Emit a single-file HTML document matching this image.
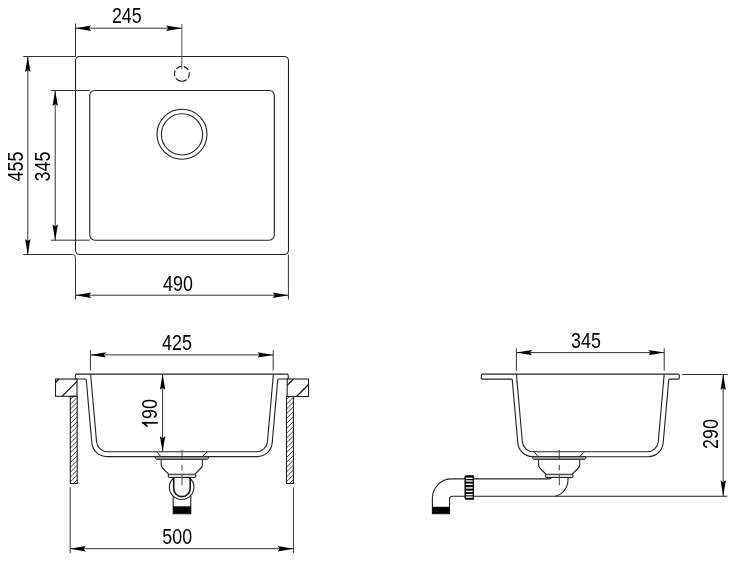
<!DOCTYPE html>
<html><head><meta charset="utf-8"><style>html,body{margin:0;padding:0;background:#fff;}svg{display:block;will-change:transform}</style></head>
<body><svg width="750" height="570" viewBox="0 0 750 570">
<rect width="750" height="570" fill="#fff"/>
<rect x="75.5" y="56.5" width="213" height="198" rx="4.2" fill="none" stroke="#222" stroke-width="1.1"/>
<rect x="89.8" y="90.5" width="184.5" height="149.7" rx="5" fill="none" stroke="#222" stroke-width="1.1"/>
<circle cx="182" cy="134.2" r="25" fill="none" stroke="#222" stroke-width="1.1"/>
<circle cx="182" cy="134.4" r="20.6" fill="none" stroke="#222" stroke-width="1.1"/>
<circle cx="181.9" cy="73.8" r="7.4" fill="none" stroke="#111" stroke-width="1.1" stroke-dasharray="5.68 2.33" transform="rotate(98 181.9 73.8)"/>
<line x1="75.5" y1="23.5" x2="75.5" y2="56.5" stroke="#333" stroke-width="1" />
<path d="M23.2,254.5 L72.5,254.5 A3,3 0 0 1 75.5,257.5 L75.5,299.5" fill="none" stroke="#333" stroke-width="1"/>
<line x1="181.8" y1="24" x2="181.8" y2="69.4" stroke="#555" stroke-width="1" />
<line x1="288.4" y1="254.5" x2="288.4" y2="299.5" stroke="#333" stroke-width="1" />
<line x1="23.2" y1="56.5" x2="75.5" y2="56.5" stroke="#333" stroke-width="1" />
<line x1="50.8" y1="90.5" x2="89.8" y2="90.5" stroke="#333" stroke-width="1" />
<line x1="50.8" y1="240.2" x2="89.8" y2="240.2" stroke="#333" stroke-width="1" />
<line x1="75.5" y1="28.2" x2="181.8" y2="28.2" stroke="#333" stroke-width="1" />
<path d="M0,0 L15.6,-2.7 L13.6,0 L15.6,2.7 Z" fill="#000" transform="translate(75.5,28.2) rotate(0)"/>
<path d="M0,0 L15.6,-2.7 L13.6,0 L15.6,2.7 Z" fill="#000" transform="translate(181.8,28.2) rotate(180)"/>
<line x1="75.5" y1="295.2" x2="288.4" y2="295.2" stroke="#333" stroke-width="1" />
<path d="M0,0 L15.6,-2.7 L13.6,0 L15.6,2.7 Z" fill="#000" transform="translate(75.5,295.2) rotate(0)"/>
<path d="M0,0 L15.6,-2.7 L13.6,0 L15.6,2.7 Z" fill="#000" transform="translate(288.4,295.2) rotate(180)"/>
<line x1="27.8" y1="56.5" x2="27.8" y2="254.5" stroke="#333" stroke-width="1" />
<path d="M0,0 L15.6,-2.7 L13.6,0 L15.6,2.7 Z" fill="#000" transform="translate(27.8,56.5) rotate(90)"/>
<path d="M0,0 L15.6,-2.7 L13.6,0 L15.6,2.7 Z" fill="#000" transform="translate(27.8,254.5) rotate(-90)"/>
<line x1="55.2" y1="90.5" x2="55.2" y2="240.2" stroke="#333" stroke-width="1" />
<path d="M0,0 L15.6,-2.7 L13.6,0 L15.6,2.7 Z" fill="#000" transform="translate(55.2,90.5) rotate(90)"/>
<path d="M0,0 L15.6,-2.7 L13.6,0 L15.6,2.7 Z" fill="#000" transform="translate(55.2,240.2) rotate(-90)"/>
<text transform="translate(126.8,23.3) scale(0.79,1)" text-anchor="middle" font-family="Liberation Sans" font-size="22.6" fill="#000">245</text>
<text transform="translate(178,290.7) scale(0.79,1)" text-anchor="middle" font-family="Liberation Sans" font-size="22.6" fill="#000">490</text>
<text transform="translate(23.0,166.5) rotate(-90) scale(0.79,1)" text-anchor="middle" font-family="Liberation Sans" font-size="22.6" fill="#000">455</text>
<text transform="translate(50.4,166.5) rotate(-90) scale(0.79,1)" text-anchor="middle" font-family="Liberation Sans" font-size="22.6" fill="#000">345</text>
<rect x="55.5" y="379" width="21.5" height="17.3" fill="none" stroke="#222" stroke-width="1.1"/>
<line x1="55.5" y1="382.5" x2="59.0" y2="379" stroke="#111" stroke-width="1.2"/>
<line x1="62.0" y1="396.3" x2="77" y2="381.3" stroke="#111" stroke-width="1.2"/>
<rect x="287.2" y="379" width="21.3" height="17.5" fill="none" stroke="#222" stroke-width="1.1"/>
<line x1="287.2" y1="385.3" x2="293.5" y2="379" stroke="#111" stroke-width="1.2"/>
<line x1="296.5" y1="396.5" x2="308.5" y2="384.5" stroke="#111" stroke-width="1.2"/>
<rect x="70.3" y="396.3" width="6.9" height="87.3" fill="none" stroke="#222" stroke-width="1.1"/>
<line x1="70.3" y1="399.5" x2="73.5" y2="396.3" stroke="#222" stroke-width="0.85"/>
<line x1="70.3" y1="404.35" x2="77.2" y2="397.45" stroke="#222" stroke-width="0.85"/>
<line x1="70.3" y1="409.2" x2="77.2" y2="402.3" stroke="#222" stroke-width="0.85"/>
<line x1="70.3" y1="414.05" x2="77.2" y2="407.15" stroke="#222" stroke-width="0.85"/>
<line x1="70.3" y1="418.9" x2="77.2" y2="412.0" stroke="#222" stroke-width="0.85"/>
<line x1="70.3" y1="423.75" x2="77.2" y2="416.85" stroke="#222" stroke-width="0.85"/>
<line x1="70.3" y1="428.6" x2="77.2" y2="421.7" stroke="#222" stroke-width="0.85"/>
<line x1="70.3" y1="433.45" x2="77.2" y2="426.55" stroke="#222" stroke-width="0.85"/>
<line x1="70.3" y1="438.3" x2="77.2" y2="431.4" stroke="#222" stroke-width="0.85"/>
<line x1="70.3" y1="443.15" x2="77.2" y2="436.25" stroke="#222" stroke-width="0.85"/>
<line x1="70.3" y1="448.0" x2="77.2" y2="441.1" stroke="#222" stroke-width="0.85"/>
<line x1="70.3" y1="452.85" x2="77.2" y2="445.95" stroke="#222" stroke-width="0.85"/>
<line x1="70.3" y1="457.7" x2="77.2" y2="450.8" stroke="#222" stroke-width="0.85"/>
<line x1="70.3" y1="462.55" x2="77.2" y2="455.65" stroke="#222" stroke-width="0.85"/>
<line x1="70.3" y1="467.4" x2="77.2" y2="460.5" stroke="#222" stroke-width="0.85"/>
<line x1="70.3" y1="472.25" x2="77.2" y2="465.35" stroke="#222" stroke-width="0.85"/>
<line x1="70.3" y1="477.1" x2="77.2" y2="470.2" stroke="#222" stroke-width="0.85"/>
<line x1="70.3" y1="481.95" x2="77.2" y2="475.05" stroke="#222" stroke-width="0.85"/>
<line x1="73.5" y1="483.6" x2="77.2" y2="479.9" stroke="#222" stroke-width="0.85"/>
<rect x="286.5" y="396.5" width="6.9" height="87" fill="none" stroke="#222" stroke-width="1.1"/>
<line x1="286.5" y1="399.3" x2="289.3" y2="396.5" stroke="#222" stroke-width="0.85"/>
<line x1="286.5" y1="404.15" x2="293.4" y2="397.25" stroke="#222" stroke-width="0.85"/>
<line x1="286.5" y1="409.0" x2="293.4" y2="402.1" stroke="#222" stroke-width="0.85"/>
<line x1="286.5" y1="413.85" x2="293.4" y2="406.95" stroke="#222" stroke-width="0.85"/>
<line x1="286.5" y1="418.7" x2="293.4" y2="411.8" stroke="#222" stroke-width="0.85"/>
<line x1="286.5" y1="423.55" x2="293.4" y2="416.65" stroke="#222" stroke-width="0.85"/>
<line x1="286.5" y1="428.4" x2="293.4" y2="421.5" stroke="#222" stroke-width="0.85"/>
<line x1="286.5" y1="433.25" x2="293.4" y2="426.35" stroke="#222" stroke-width="0.85"/>
<line x1="286.5" y1="438.1" x2="293.4" y2="431.2" stroke="#222" stroke-width="0.85"/>
<line x1="286.5" y1="442.95" x2="293.4" y2="436.05" stroke="#222" stroke-width="0.85"/>
<line x1="286.5" y1="447.8" x2="293.4" y2="440.9" stroke="#222" stroke-width="0.85"/>
<line x1="286.5" y1="452.65" x2="293.4" y2="445.75" stroke="#222" stroke-width="0.85"/>
<line x1="286.5" y1="457.5" x2="293.4" y2="450.6" stroke="#222" stroke-width="0.85"/>
<line x1="286.5" y1="462.35" x2="293.4" y2="455.45" stroke="#222" stroke-width="0.85"/>
<line x1="286.5" y1="467.2" x2="293.4" y2="460.3" stroke="#222" stroke-width="0.85"/>
<line x1="286.5" y1="472.05" x2="293.4" y2="465.15" stroke="#222" stroke-width="0.85"/>
<line x1="286.5" y1="476.9" x2="293.4" y2="470.0" stroke="#222" stroke-width="0.85"/>
<line x1="286.5" y1="481.75" x2="293.4" y2="474.85" stroke="#222" stroke-width="0.85"/>
<line x1="289.6" y1="483.5" x2="293.4" y2="479.7" stroke="#222" stroke-width="0.85"/>
<path d="M75.4,379 L75.4,375.2 Q75.4,374.1 76.5,374.1 L287.1,374.1 Q288.2,374.1 288.2,375.2 L288.2,379" fill="none" stroke="#222" stroke-width="1.1"/>
<path d="M75.4,379 L86.2,379 M277.8,379 L288.2,379 M86.2,379 L91.82,442.91 A15,15 0 0 0 106.77,456.6 L257.23,456.6 A15,15 0 0 0 272.18,442.91 L277.8,379" fill="none" stroke="#222" stroke-width="1.1"/>
<path d="M90.6,374.1 L96.55,441.76 A11,11 0 0 0 107.51,451.8 L256.49,451.8 A11,11 0 0 0 267.45,441.76 L273.4,374.1" fill="none" stroke="#222" stroke-width="1.1"/>
<g transform="translate(0,0)"><path d="M156.8,451.8 L160.8,456.6 M207.2,451.8 L202.4,456.6" stroke="#222" stroke-width="1" fill="none"/><path d="M155.4,456.6 L208.4,456.6 L208.4,458.4 L207.4,459.4 L156.4,459.4 L155.4,458.4 Z" fill="#999" stroke="#222" stroke-width="0.9"/><path d="M161.2,459.4 L161.2,464.5 Q161.2,466.5 162.6,468 L168.8,474.4 M202.4,459.4 L202.4,464.5 Q202.4,466.5 201,468 L194.8,474.4" stroke="#222" stroke-width="1.1" fill="none"/><rect x="168.2" y="474.3" width="27.5" height="3.2" rx="1.2" fill="#ddd" stroke="#222" stroke-width="1.1"/></g>
<path d="M173.85,477.7 A12.3,12.3 0 1 0 189.45,477.7" fill="none" stroke="#222" stroke-width="1.1"/>
<path d="M173.7,477.7 L173.7,488.4 A8.25,8.25 0 0 0 190.2,488.4 L190.2,477.7" fill="none" stroke="#111" stroke-width="1.6"/>
<path d="M173.2,496 L173.2,513.7 L190.8,513.7 L190.8,496" fill="none" stroke="#222" stroke-width="1.1"/>
<rect x="173.2" y="506.3" width="17.6" height="7.4" fill="#000"/>
<path d="M182,450 L182,459.2 M182,464.8 L182,470.4 M182,474.6 L182,485.3" stroke="#444" stroke-width="1"/>
<line x1="90.4" y1="350.2" x2="90.4" y2="370.6" stroke="#333" stroke-width="1" />
<line x1="273.2" y1="350.2" x2="273.2" y2="370.6" stroke="#333" stroke-width="1" />
<line x1="90.4" y1="354.9" x2="273.2" y2="354.9" stroke="#333" stroke-width="1" />
<path d="M0,0 L15.6,-2.7 L13.6,0 L15.6,2.7 Z" fill="#000" transform="translate(90.4,354.9) rotate(0)"/>
<path d="M0,0 L15.6,-2.7 L13.6,0 L15.6,2.7 Z" fill="#000" transform="translate(273.2,354.9) rotate(180)"/>
<text transform="translate(177,350.3) scale(0.79,1)" text-anchor="middle" font-family="Liberation Sans" font-size="22.6" fill="#000">425</text>
<line x1="162.6" y1="374.2" x2="162.6" y2="451.8" stroke="#333" stroke-width="1" />
<path d="M0,0 L15.6,-2.7 L13.6,0 L15.6,2.7 Z" fill="#000" transform="translate(162.6,374.2) rotate(90)"/>
<path d="M0,0 L15.6,-2.7 L13.6,0 L15.6,2.7 Z" fill="#000" transform="translate(162.6,451.8) rotate(-90)"/>
<line x1="70.2" y1="487" x2="70.2" y2="553" stroke="#333" stroke-width="1" />
<line x1="293.4" y1="487.4" x2="293.4" y2="553" stroke="#333" stroke-width="1" />
<line x1="70.2" y1="548.7" x2="293.4" y2="548.7" stroke="#333" stroke-width="1" />
<path d="M0,0 L15.6,-2.7 L13.6,0 L15.6,2.7 Z" fill="#000" transform="translate(70.2,548.7) rotate(0)"/>
<path d="M0,0 L15.6,-2.7 L13.6,0 L15.6,2.7 Z" fill="#000" transform="translate(293.4,548.7) rotate(180)"/>
<text transform="translate(177.2,544.4) scale(0.79,1)" text-anchor="middle" font-family="Liberation Sans" font-size="22.6" fill="#000">500</text>
<text transform="translate(157.3,409) rotate(-90) scale(0.79,1)" text-anchor="middle" font-family="Liberation Sans" font-size="22.6" fill="#000">90</text>
<path d="M142.2,422.8 L157.9,422.8" stroke="#000" stroke-width="1.75"/><path d="M142.5,422.2 L147.6,426.6" stroke="#000" stroke-width="1.6"/>
<path d="M512.2,379.1 L482.6,379.1 Q481.3,379.1 481.3,377.8 L481.3,375.4 Q481.3,374.1 482.6,374.1 L678.2,374.1 Q679.3,374.1 679.3,375.2 L679.3,378 Q679.3,379.1 678.2,379.1 L668.8,379.1" fill="none" stroke="#222" stroke-width="1.1"/>
<path d="M512.2,379.1 L517.82,443.01 A15,15 0 0 0 532.77,456.7 L648.23,456.7 A15,15 0 0 0 663.18,443.01 L668.8,379.1" fill="none" stroke="#222" stroke-width="1.1"/>
<path d="M516.4,374.1 L522.35,441.76 A11,11 0 0 0 533.31,451.8 L647.29,451.8 A11,11 0 0 0 658.25,441.76 L664.2,374.1" fill="none" stroke="#222" stroke-width="1.1"/>
<g transform="translate(377.29999999999995,0)"><path d="M156.8,451.8 L160.8,456.6 M207.2,451.8 L202.4,456.6" stroke="#222" stroke-width="1" fill="none"/><path d="M155.4,456.6 L208.4,456.6 L208.4,458.4 L207.4,459.4 L156.4,459.4 L155.4,458.4 Z" fill="#999" stroke="#222" stroke-width="0.9"/><path d="M161.2,459.4 L161.2,464.5 Q161.2,466.5 162.6,468 L168.8,474.4 M202.4,459.4 L202.4,464.5 Q202.4,466.5 201,468 L194.8,474.4" stroke="#222" stroke-width="1.1" fill="none"/><rect x="168.2" y="474.3" width="27.5" height="3.2" rx="1.2" fill="#ddd" stroke="#222" stroke-width="1.1"/></g>
<path d="M559.3,450 L559.3,459.2 M559.3,464.8 L559.3,470.4 M559.3,474.6 L559.3,485.3" stroke="#444" stroke-width="1"/>
<path d="M568,477.6 L568,479 A17,17 0 0 1 555,496.3" fill="none" stroke="#222" stroke-width="1.1"/>
<path d="M451.6,478.9 L549,478.9 Q551,478.9 551.5,477.6" fill="none" stroke="#222" stroke-width="1.1"/>
<path d="M727.2,496.3 L452.6,496.3 Q449.5,496.3 449.5,499.4 L449.5,513.7 L432.4,513.7 L432.4,498.1 A19.2,19.2 0 0 1 451.6,478.9" fill="none" stroke="#222" stroke-width="1.1"/>
<rect x="432.4" y="506.8" width="17.1" height="6.9" fill="#000"/>
<path d="M466.5,475.2 L473.9,475.2 L473.9,499.8 L466.5,499.8 Q464.5,499.8 464.5,497.8 L464.5,477.2 Q464.5,475.2 466.5,475.2 Z" fill="#000"/><rect x="465.9" y="477.6" width="6.8" height="1.4" fill="#fff"/><rect x="465.9" y="480.3" width="6.8" height="1.4" fill="#fff"/><rect x="465.9" y="483.6" width="6.8" height="1.4" fill="#fff"/><rect x="465.9" y="487.2" width="6.8" height="1.4" fill="#fff"/><rect x="465.9" y="490.7" width="6.8" height="1.4" fill="#fff"/><rect x="465.9" y="493.90000000000003" width="6.8" height="1.4" fill="#fff"/><rect x="465.9" y="496.40000000000003" width="6.8" height="1.4" fill="#fff"/>
<line x1="516.4" y1="348.3" x2="516.4" y2="370.7" stroke="#333" stroke-width="1" />
<line x1="664.2" y1="348.3" x2="664.2" y2="370.7" stroke="#333" stroke-width="1" />
<line x1="516.4" y1="352.6" x2="664.2" y2="352.6" stroke="#333" stroke-width="1" />
<path d="M0,0 L15.6,-2.7 L13.6,0 L15.6,2.7 Z" fill="#000" transform="translate(516.4,352.6) rotate(0)"/>
<path d="M0,0 L15.6,-2.7 L13.6,0 L15.6,2.7 Z" fill="#000" transform="translate(664.2,352.6) rotate(180)"/>
<text transform="translate(586,347.9) scale(0.79,1)" text-anchor="middle" font-family="Liberation Sans" font-size="22.6" fill="#000">345</text>
<line x1="682.1" y1="374.5" x2="727.8" y2="374.5" stroke="#333" stroke-width="1" />
<line x1="723.2" y1="374.5" x2="723.2" y2="495.9" stroke="#333" stroke-width="1" />
<path d="M0,0 L15.6,-2.7 L13.6,0 L15.6,2.7 Z" fill="#000" transform="translate(723.2,374.5) rotate(90)"/>
<path d="M0,0 L15.6,-2.7 L13.6,0 L15.6,2.7 Z" fill="#000" transform="translate(723.2,495.9) rotate(-90)"/>
<text transform="translate(717.9,434) rotate(-90) scale(0.79,1)" text-anchor="middle" font-family="Liberation Sans" font-size="22.6" fill="#000">290</text>
</svg></body></html>
